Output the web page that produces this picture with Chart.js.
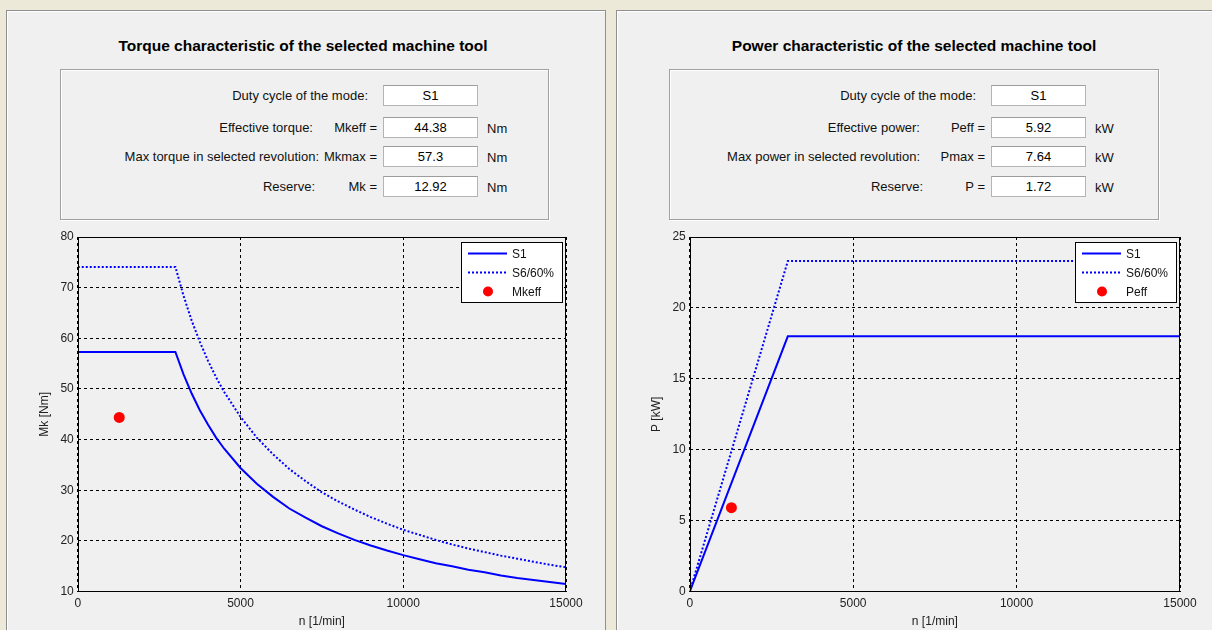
<!DOCTYPE html>
<html>
<head>
<meta charset="utf-8">
<script src="https://cdn.jsdelivr.net/npm/chart.js@4.4.0/dist/chart.umd.min.js"></script>
<style>
    body { margin: 0; background: #ECE9D8; font-family: "Liberation Sans", Arial, sans-serif; }
    #root { position: relative; width: 1212px; height: 630px; overflow: hidden; }
    .panel { position: absolute; top: 10px; height: 640px; background: #F0F0F0; border: 1px solid #8f8f8f; box-shadow: inset 1px 1px 0 #fff; box-sizing: border-box; }
    .title { position: absolute; top: 37px; font-size: 15.5px; font-weight: bold; color: #000; text-align: center; width: 560px; }
    .box { position: absolute; top: 69px; height: 151px; border: 1px solid #a0a0a0; box-shadow: 1px 1px 0 #fff, inset 1px 1px 0 #fff; box-sizing: border-box; }
    .lbl { position: absolute; font-size: 13px; color: #111; white-space: nowrap; text-align: right; line-height: 16px; }
    .unit { position: absolute; font-size: 13px; color: #111; line-height: 16px; }
    .fld { position: absolute; width: 95px; height: 21px; background: #fff; border: 1px solid #b4b4b4; border-top-color: #9c9c9c; box-sizing: border-box; font-size: 13px; color: #000; text-align: center; line-height: 19px; }
    .chartbox { position: absolute; top: 222px; }
</style>
</head>
<body>
<div id="root">
    <div class="panel" style="left:6px; width:600px;"></div>
    <div class="panel" style="left:616px; width:620px;"></div>

    <div class="title" style="left:23px;">Torque characteristic of the selected machine tool</div>
    <div class="box" style="left:60px; width:489px;"></div>
    <div class="lbl" style="right:844px; top:88px;">Duty cycle of the mode:</div>
    <div class="fld" style="left:383px; top:85px;">S1</div>
    <div class="lbl" style="right:899px; top:120px;">Effective torque:</div>
    <div class="lbl" style="right:835px; top:120px;">Mkeff =</div>
    <div class="fld" style="left:383px; top:117px;">44.38</div>
    <div class="unit" style="left:487px; top:121px;">Nm</div>
    <div class="lbl" style="right:893px; top:149px;">Max torque in selected revolution:</div>
    <div class="lbl" style="right:835px; top:149px;">Mkmax =</div>
    <div class="fld" style="left:383px; top:146px;">57.3</div>
    <div class="unit" style="left:487px; top:150px;">Nm</div>
    <div class="lbl" style="right:897px; top:179px;">Reserve:</div>
    <div class="lbl" style="right:835px; top:179px;">Mk =</div>
    <div class="fld" style="left:383px; top:176px;">12.92</div>
    <div class="unit" style="left:487px; top:180px;">Nm</div>

    <div class="title" style="left:634px;">Power characteristic of the selected machine tool</div>
    <div class="box" style="left:669px; width:490px;"></div>
    <div class="lbl" style="right:236px; top:88px;">Duty cycle of the mode:</div>
    <div class="fld" style="left:991px; top:85px;">S1</div>
    <div class="lbl" style="right:292px; top:120px;">Effective power:</div>
    <div class="lbl" style="right:227px; top:120px;">Peff =</div>
    <div class="fld" style="left:991px; top:117px;">5.92</div>
    <div class="unit" style="left:1095px; top:121px;">kW</div>
    <div class="lbl" style="right:292px; top:149px;">Max power in selected revolution:</div>
    <div class="lbl" style="right:227px; top:149px;">Pmax =</div>
    <div class="fld" style="left:991px; top:146px;">7.64</div>
    <div class="unit" style="left:1095px; top:150px;">kW</div>
    <div class="lbl" style="right:289px; top:179px;">Reserve:</div>
    <div class="lbl" style="right:227px; top:179px;">P =</div>
    <div class="fld" style="left:991px; top:176px;">1.72</div>
    <div class="unit" style="left:1095px; top:180px;">kW</div>

    <div class="chartbox" style="left:20px;"><canvas id="Chart1" width="575" height="408"></canvas></div>
    <div class="chartbox" style="left:630px;"><canvas id="Chart2" width="575" height="408"></canvas></div>
</div>

<script>
// torque curves, n [1/min] -> Mk [Nm]
var torqueN = [0, 3000, 3250, 3500, 3750, 4000, 4250, 4500, 5000, 5500, 6000, 6500, 7000, 7500, 8000, 8500, 9000, 9500, 10000, 10500, 11000, 11500, 12000, 12500, 13000, 13500, 14000, 14500, 15000];
var torqueS1 = [57.3, 57.3, 52.9, 49.1, 45.8, 43.0, 40.4, 38.2, 34.4, 31.3, 28.7, 26.4, 24.6, 22.9, 21.5, 20.2, 19.1, 18.1, 17.2, 16.4, 15.6, 15.0, 14.3, 13.8, 13.2, 12.7, 12.3, 11.9, 11.5];
var torqueS6 = [74.1, 74.1, 68.4, 63.5, 59.3, 55.6, 52.3, 49.4, 44.5, 40.4, 37.1, 34.2, 31.8, 29.6, 27.8, 26.2, 24.7, 23.4, 22.2, 21.2, 20.2, 19.3, 18.5, 17.8, 17.1, 16.5, 15.9, 15.3, 14.8];
var mkeffN = [1275];
var mkeff = [44.38];

// power curves, n [1/min] -> P [kW]
var powerN = [0, 3000, 15000];
var powerS1 = [0, 18.0, 18.0];
var powerS6 = [0, 23.3, 23.3];
var peffN = [1275];
var peff = [5.92];

var xTicks = [0, 5000, 10000, 15000];

Chart.defaults.font.family = '"Liberation Sans", Arial, sans-serif';
Chart.defaults.font.size = 12;
Chart.defaults.color = '#222';

function toPoints(xs, ys) {
    return xs.map(function (x, i) { return { x: x, y: ys[i] }; });
}

var frameLegend = {
    id: 'frameLegend',
    afterDatasetsDraw: function (chart) {
        var ctx = chart.ctx;
        var a = chart.chartArea;
        ctx.save();
        ctx.strokeStyle = '#000';
        ctx.lineWidth = 1;
        ctx.setLineDash([]);
        ctx.strokeRect(Math.round(a.left) + 0.5, Math.round(a.top) + 0.5, Math.round(a.right - a.left) - 1, Math.round(a.bottom - a.top) - 1);

        var w = 101, h = 60;
        var lx = Math.round(a.right) - 4 - w, ly = Math.round(a.top) + 5;
        ctx.fillStyle = '#fff';
        ctx.fillRect(lx, ly, w, h);
        ctx.strokeRect(lx + 0.5, ly + 0.5, w, h);
        ctx.font = '12px "Liberation Sans", Arial, sans-serif';
        ctx.textBaseline = 'middle';
        chart.data.datasets.forEach(function (ds, i) {
            var cy = ly + 11.5 + i * 19;
            if (ds.showLine) {
                ctx.strokeStyle = ds.borderColor;
                ctx.lineWidth = ds.borderWidth;
                ctx.setLineDash(ds.borderDash || []);
                ctx.beginPath();
                ctx.moveTo(lx + 7, cy);
                ctx.lineTo(lx + 46, cy);
                ctx.stroke();
                ctx.setLineDash([]);
            } else {
                ctx.fillStyle = ds.backgroundColor;
                ctx.beginPath();
                ctx.arc(lx + 27, cy, 5, 0, Math.PI * 2);
                ctx.fill();
            }
            ctx.fillStyle = '#111';
            ctx.fillText(ds.label, lx + 51, cy + 1);
        });
        ctx.restore();
    }
};

function makeChart(id, xs, s1, s6, px, py, pLabel, yMin, yMax, yStep, yTitle, padLeft, padRight) {
    var ctx = document.getElementById(id);
    return new Chart(ctx, {
        type: 'scatter',
        data: {
            datasets: [{
                label: 'S1',
                data: toPoints(xs, s1),
                showLine: true,
                borderColor: '#0000ff',
                backgroundColor: '#0000ff',
                borderWidth: 2,
                pointRadius: 0,
                tension: 0,
            }, {
                label: 'S6/60%',
                data: toPoints(xs, s6),
                showLine: true,
                borderColor: '#0000ff',
                backgroundColor: '#0000ff',
                borderWidth: 2,
                borderDash: [2, 2],
                pointRadius: 0,
                tension: 0,
            }, {
                label: pLabel,
                data: toPoints(px, py),
                showLine: false,
                backgroundColor: '#ff0000',
                borderColor: '#ff0000',
                pointRadius: 5.5,
                borderWidth: 0,
            }]
        },
        options: {
            responsive: false,
            animation: false,
            devicePixelRatio: 1,
            layout: { padding: { top: 15, right: padRight, left: padLeft, bottom: 2 } },
            plugins: { legend: { display: false }, tooltip: { enabled: false } },
            scales: {
                x: {
                    type: 'linear',
                    min: 0,
                    max: 15000,
                    afterBuildTicks: function (axis) {
                        axis.ticks = xTicks.map(function (v) { return { value: v }; });
                    },
                    ticks: {
                        maxRotation: 0,
                        padding: 5,
                        color: '#222',
                        callback: function (value) { return String(value); }
                    },
                    grid: { color: '#000', lineWidth: 1, drawTicks: false },
                    border: { display: false, dash: [3, 3] },
                    title: { display: true, text: 'n [1/min]', color: '#222', font: { lineHeight: 1 }, padding: { top: 0, bottom: 0 } }
                },
                y: {
                    type: 'linear',
                    min: yMin,
                    max: yMax,
                    ticks: {
                        stepSize: yStep,
                        padding: 4,
                        color: '#222',
                        callback: function (value) { return String(value); }
                    },
                    grid: { color: '#000', lineWidth: 1, drawTicks: false },
                    border: { display: false, dash: [3, 3] },
                    title: { display: true, text: yTitle, color: '#222', padding: { top: 0, bottom: 5 } }
                }
            }
        },
        plugins: [frameLegend]
    });
}

makeChart('Chart1', torqueN, torqueS1, torqueS6, mkeffN, mkeff, 'Mkeff', 10, 80, 10, 'Mk [Nm]', 17, 29);
makeChart('Chart2', powerN, powerS1, powerS6, peffN, peff, 'Peff', 0, 25, 5, 'P [kW]', 19, 25);
</script>
</body>
</html>
